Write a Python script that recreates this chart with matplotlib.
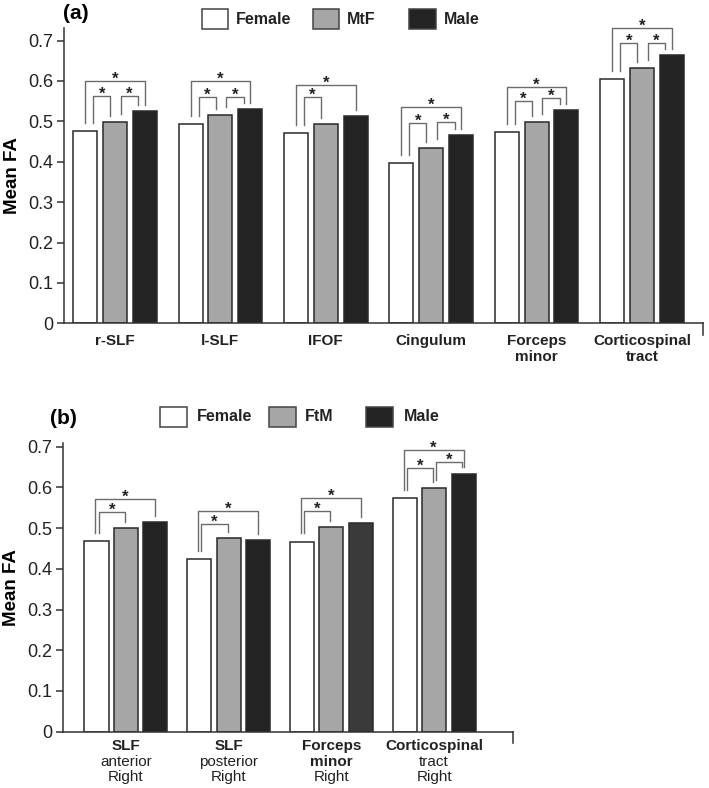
import matplotlib
matplotlib.use("Agg")
import matplotlib.pyplot as plt
from matplotlib.patches import Rectangle

plt.rcParams['font.family'] = ['Liberation Sans', 'DejaVu Sans']

W, H = 709, 788

# ---- panel (a): Female / MtF / Male
tracts_a = [["r-SLF"], ["l-SLF"], ["IFOF"], ["Cingulum"], ["Forceps", "minor"], ["Corticospinal", "tract"]]
female_a = [0.475, 0.493, 0.471, 0.396, 0.474, 0.605]
mtf_a = [0.499, 0.516, 0.494, 0.435, 0.498, 0.631]
male_a = [0.525, 0.530, 0.513, 0.465, 0.527, 0.664]
# significance brackets: (group, bar i, bar j, height)
sig_a = [(0, 0, 2, 0.600), (0, 0, 1, 0.562), (0, 1, 2, 0.562),
         (1, 0, 2, 0.600), (1, 0, 1, 0.560), (1, 1, 2, 0.560),
         (2, 0, 2, 0.589), (2, 0, 1, 0.560),
         (3, 0, 2, 0.536), (3, 0, 1, 0.497), (3, 1, 2, 0.499),
         (4, 0, 2, 0.586), (4, 0, 1, 0.550), (4, 1, 2, 0.558),
         (5, 0, 2, 0.730), (5, 0, 1, 0.695), (5, 1, 2, 0.695)]

# ---- panel (b): Female / FtM / Male
tracts_b = [[("SLF", "bold"), ("anterior", "normal"), ("Right", "normal")],
            [("SLF", "bold"), ("posterior", "normal"), ("Right", "normal")],
            [("Forceps", "bold"), ("minor", "bold"), ("Right", "normal")],
            [("Corticospinal", "bold"), ("tract", "normal"), ("Right", "normal")]]
female_b = [0.468, 0.423, 0.467, 0.573]
ftm_b = [0.501, 0.475, 0.502, 0.599]
male_b = [0.514, 0.471, 0.513, 0.634]
sig_b = [(0, 0, 2, 0.572), (0, 0, 1, 0.539),
         (1, 0, 2, 0.542), (1, 0, 1, 0.511),
         (2, 0, 2, 0.575), (2, 0, 1, 0.542),
         (3, 0, 2, 0.693), (3, 0, 1, 0.647), (3, 1, 2, 0.662)]

yticks = [0, 0.1, 0.2, 0.3, 0.4, 0.5, 0.6, 0.7]
ytick_labels = ["0", "0.1", "0.2", "0.3", "0.4", "0.5", "0.6", "0.7"]

WHITE, GREY, BLACK = "white", "#a6a6a6", "#232323"
EDGE = "#2a2a2a"
BRK = "#6b6b6b"


def px_axes(fig, left, right, y0, ytop):
    return fig.add_axes([left / W, 1 - y0 / H, (right - left) / W, (y0 - ytop) / H])


def draw_panel(ax, series, colors, xlim, ylim_top, width, step, sigs, insets):
    ngroups = len(series[0])
    for k, vals in enumerate(series):
        xs = [g + (k - 1) * step for g in range(ngroups)]
        ax.bar(xs, vals, width=width, color=colors[k], edgecolor=EDGE, linewidth=1.1, zorder=2)
    for g, i, j, h in sigs:
        key = "outer" if j - i == 2 else ("left" if i == 0 else "right")
        a, b = insets[key]
        x1 = g + (i - 1) * step + a
        x2 = g + (j - 1) * step - b
        y1 = series[i][g] + 0.02
        y2 = series[j][g] + 0.015
        ax.plot([x1, x1, x2, x2], [y1, h, h, y2], color=BRK, lw=1.0, clip_on=False, zorder=3)
        ax.annotate("*", xy=((x1 + x2) / 2, h), xytext=(0, -2.0), textcoords="offset points",
                    ha="center", va="baseline", fontsize=12, fontweight="bold", color="#222222",
                    annotation_clip=False)
    ax.set_xlim(*xlim)
    ax.set_ylim(0, ylim_top)
    ax.spines["top"].set_visible(False)
    ax.spines["right"].set_visible(False)
    ax.spines["left"].set_bounds(0, ylim_top)
    for s in ("left", "bottom"):
        ax.spines[s].set_linewidth(1.1)
        ax.spines[s].set_color("#333333")
    ax.set_yticks(yticks)
    ax.set_yticklabels(ytick_labels, fontsize=13, color="#222222")
    ax.tick_params(axis="y", length=5, width=1.1, color="#333333", pad=3)
    ax.set_xticks([])
    ax.plot([xlim[1], xlim[1]], [0, -0.028], color="#333333", lw=1.1, clip_on=False)
    ax.set_ylabel("Mean FA", fontsize=13.5, fontweight="bold", labelpad=5)


def legend(fig, items, ytop, boxes, texts):
    for (label, color), bx, tx in zip(items, boxes, texts):
        fig.add_artist(Rectangle((bx[0] / W, 1 - (ytop + 20) / H), (bx[1] - bx[0]) / W, 20 / H,
                                 transform=fig.transFigure, facecolor=color, edgecolor="#444444",
                                 linewidth=1.1))
        fig.text(tx / W, 1 - (ytop + 10) / H, label, fontsize=11.5, fontweight="bold",
                 ha="left", va="center", color="#222222")


fig = plt.figure(figsize=(W / 100, H / 100), dpi=100)

# ---------- panel (a)
ax_a = px_axes(fig, 64, 703, 323.3, 323.3 - 0.73 * 404)
draw_panel(ax_a, [female_a, mtf_a, male_a], [WHITE, GREY, BLACK],
           (-0.484, 5.579), 0.73, 0.228, 0.282, sig_a,
           {"outer": (0, 0), "left": (0.075, 0.045), "right": (0.055, 0.06)})
for g, lines in enumerate(tracts_a):
    for k, line in enumerate(lines):
        ax_a.annotate(line, xy=(g, 0), xycoords=("data", "axes fraction"),
                      xytext=(0, -7.5 - 11.5 * k), textcoords="offset points",
                      ha="center", va="top", fontsize=11, fontweight="bold", color="#222222")
fig.text(75.5 / W, 1 - 13.5 / H, "(a)", fontsize=15, fontweight="bold", ha="center", va="center")
legend(fig, [("Female", WHITE), ("MtF", GREY), ("Male", BLACK)], 9,
       [(202, 228), (313, 339), (409, 436)], [236, 347, 444])

# ---------- panel (b)
ax_b = px_axes(fig, 63, 513, 731.6, 731.6 - 0.71 * 407)
draw_panel(ax_b, [female_b, ftm_b, male_b], [WHITE, GREY, BLACK],
           (-0.613, 3.768), 0.71, 0.234, 0.287, sig_b,
           {"outer": (-0.01, 0), "left": (0.02, 0.01), "right": (0.02, 0.015)})
# the forceps minor Male bar is a slightly lighter black in the original
ax_b.patches[-2].set_facecolor("#3a3a3a")
for g, lines in enumerate(tracts_b):
    for k, (line, wt) in enumerate(lines):
        ax_b.annotate(line, xy=(g, 0), xycoords=("data", "axes fraction"),
                      xytext=(0, -5.5 - 11.2 * k), textcoords="offset points",
                      ha="center", va="top", fontsize=11, fontweight=wt, color="#222222")
fig.text(63.5 / W, 1 - 418 / H, "(b)", fontsize=15, fontweight="bold", ha="center", va="center")
legend(fig, [("Female", WHITE), ("FtM", GREY), ("Male", BLACK)], 407,
       [(160, 187), (269, 296), (366, 393)], [197, 305, 404])

fig.savefig("out.png", dpi=100)
